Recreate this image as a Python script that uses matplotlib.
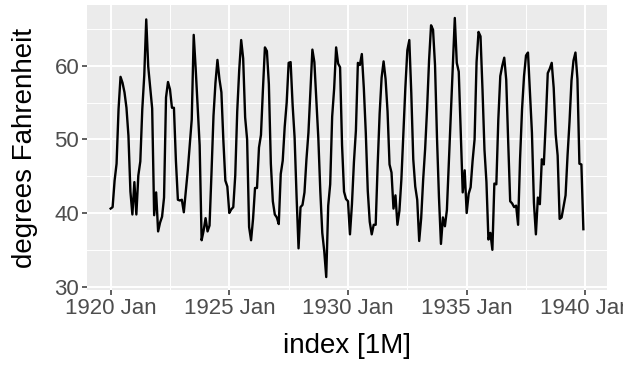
import matplotlib
matplotlib.use("Agg")
import matplotlib.pyplot as plt
import numpy as np

# Nottingham monthly mean temperatures, 1920 Jan .. 1939 Dec
temps = [
    40.6, 40.8, 44.4, 46.7, 54.1, 58.5, 57.7, 56.4, 54.3, 50.5, 42.9, 39.8,
    44.2, 39.8, 45.1, 47.0, 54.1, 58.7, 66.3, 59.9, 57.0, 54.2, 39.7, 42.8,
    37.5, 38.7, 39.5, 42.1, 55.7, 57.8, 56.8, 54.3, 54.3, 47.1, 41.8, 41.7,
    41.8, 40.1, 42.9, 45.8, 49.2, 52.7, 64.2, 59.6, 54.4, 49.2, 36.3, 37.6,
    39.3, 37.5, 38.3, 45.5, 53.2, 57.7, 60.8, 58.2, 56.4, 49.8, 44.4, 43.6,
    40.0, 40.5, 40.8, 45.1, 53.8, 59.4, 63.5, 61.0, 53.0, 50.0, 38.1, 36.3,
    39.2, 43.4, 43.4, 48.9, 50.6, 56.8, 62.5, 62.0, 57.5, 46.7, 41.6, 39.8,
    39.4, 38.5, 45.3, 47.1, 51.7, 55.0, 60.4, 60.5, 54.7, 50.3, 42.3, 35.2,
    40.8, 41.1, 42.8, 47.3, 50.9, 56.4, 62.2, 60.5, 55.4, 50.2, 43.0, 37.3,
    34.8, 31.3, 41.0, 43.9, 53.1, 56.9, 62.5, 60.3, 59.8, 49.2, 42.9, 41.9,
    41.6, 37.1, 41.2, 46.9, 51.2, 60.4, 60.1, 61.6, 57.0, 50.9, 43.0, 38.8,
    37.1, 38.4, 38.4, 46.5, 53.5, 58.4, 60.6, 58.2, 53.8, 46.6, 45.5, 40.6,
    42.4, 38.4, 40.3, 44.6, 50.9, 57.0, 62.1, 63.5, 56.3, 47.3, 43.6, 41.8,
    36.2, 39.3, 44.5, 48.7, 54.2, 60.8, 65.5, 64.9, 60.1, 50.2, 42.1, 35.8,
    39.4, 38.2, 40.4, 46.9, 53.4, 59.6, 66.5, 60.4, 59.2, 51.2, 42.8, 45.8,
    40.0, 42.6, 43.5, 47.1, 50.0, 60.5, 64.6, 64.0, 56.8, 48.6, 44.2, 36.4,
    37.3, 35.0, 44.0, 43.9, 52.7, 58.6, 60.0, 61.1, 58.1, 49.6, 41.6, 41.3,
    40.8, 41.0, 38.4, 47.4, 54.1, 58.6, 61.4, 61.8, 56.3, 50.9, 41.4, 37.1,
    42.1, 41.2, 47.3, 46.6, 52.4, 59.0, 59.6, 60.4, 57.0, 50.7, 47.8, 39.2,
    39.4, 40.9, 42.4, 47.8, 52.4, 58.0, 60.7, 61.8, 58.2, 46.7, 46.6, 37.8,
]
start_year = 1920
x_ticks = [1920, 1925, 1930, 1935, 1940]
x_tick_labels = ["1920 Jan", "1925 Jan", "1930 Jan", "1935 Jan", "1940 Jan"]
y_ticks = [30, 40, 50, 60]

plt.rcParams["font.family"] = ["Liberation Sans", "DejaVu Sans"]

y = np.asarray(temps, dtype=float)
x = start_year + np.arange(len(y)) / 12.0

fig = plt.figure(figsize=(6.23, 3.65), dpi=100)
ax = fig.add_axes([87 / 623, 1 - 290 / 365, 520 / 623, 285 / 365])
ax.set_facecolor("#EBEBEB")
for s in ax.spines.values():
    s.set_visible(False)

# ggplot-style 5% expansion
xr = x[-1] - x[0]
ax.set_xlim(x[0] - 0.05 * xr, x[-1] + 0.05 * xr)
yr = y.max() - y.min()
ax.set_ylim(y.min() - 0.05 * yr, y.max() + 0.05 * yr)

ax.set_xticks(x_ticks)
ax.set_xticklabels(x_tick_labels)
ax.set_yticks(y_ticks)
ax.set_xticks([1922.5, 1927.5, 1932.5, 1937.5], minor=True)
ax.set_yticks([35, 45, 55, 65], minor=True)

ax.grid(which="major", color="white", linewidth=1.4)
ax.grid(which="minor", color="white", linewidth=0.7)
ax.set_axisbelow(True)
ax.tick_params(which="major", length=3.6, width=1.1, color="#333333",
               labelsize=16, labelcolor="#4D4D4D", pad=2)
ax.tick_params(which="minor", length=0)

ax.plot(x, y, color="black", linewidth=1.7, zorder=3)

ax.set_xlabel("index [1M]", fontsize=20, labelpad=10)
ax.set_ylabel("degrees Fahrenheit", fontsize=20, labelpad=12)

fig.savefig("out.png", dpi=100)
